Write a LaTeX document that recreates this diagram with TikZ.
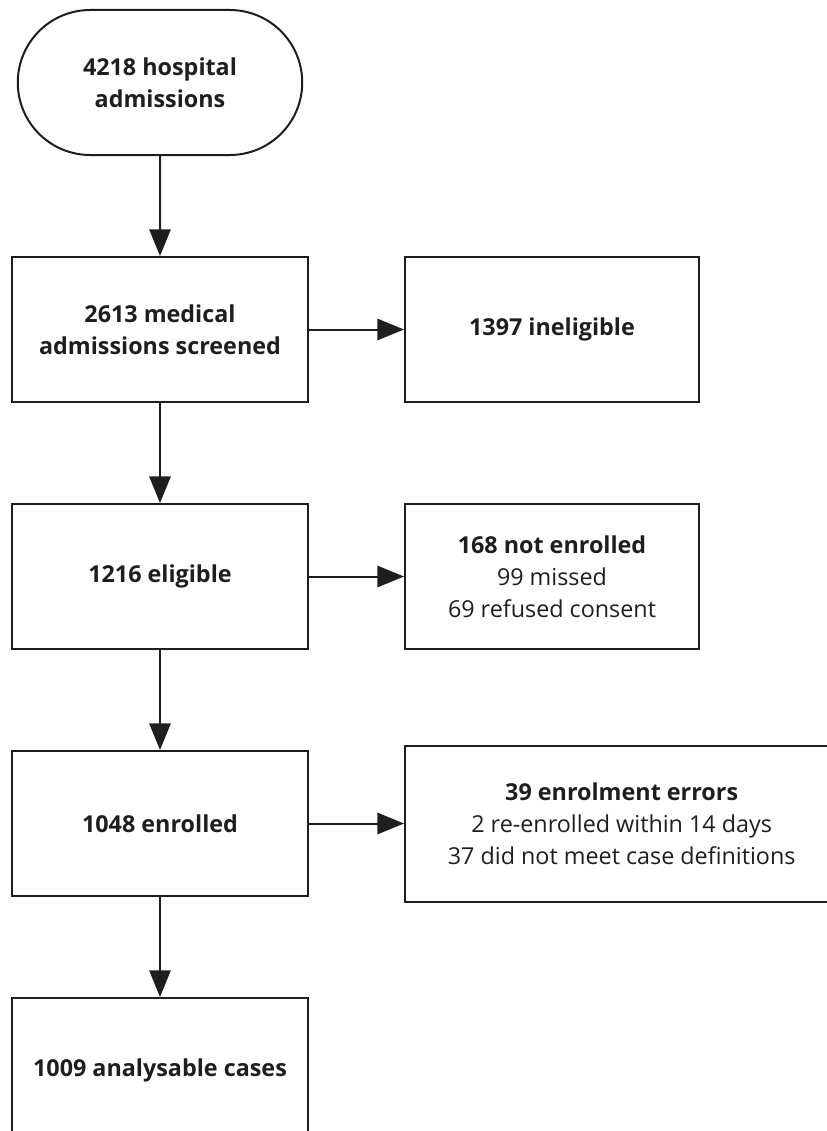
\documentclass[tikz,border=0pt]{standalone}
\usepackage{fontspec}
\setmainfont{Open Sans}
\usepackage{xcolor}
\usetikzlibrary{positioning, arrows.meta, shapes.misc}

\definecolor{ink}{HTML}{1E1E1E}

\begin{document}
\begin{tikzpicture}[
			node distance=75pt and 71.25pt,
			>={Triangle[length=20pt, width=16pt]},
			every node/.style={text=ink, font=\fontsize{17.5}{24}\selectfont},
			startbox/.style={draw=ink, line width=1.5pt, rounded rectangle, minimum width=220pt, minimum height=108.75pt, align=center},
			stepbox/.style={draw=ink, line width=1.5pt, rectangle, minimum width=222pt, minimum height=108.75pt, align=center},
			sidebox/.style={stepbox, minimum width=220.5pt}
		]
		\useasboundingbox (0,0) rectangle (620.25pt,-848.25pt);
		\clip (0,0) rectangle (620.25pt,-848.25pt);

		\node[startbox] (adm) at (120pt,-61.875pt) {\textbf{4218 hospital}\\\textbf{admissions}};
		\node[stepbox, below=of adm] (scr) {\textbf{2613 medical}\\\textbf{admissions screened}};
		\node[sidebox, right=of scr] (inel) {\textbf{1397 ineligible}};
		\node[stepbox, below=of scr] (elig) {\textbf{1216 eligible}};
		\node[sidebox, right=of elig] (notenr) {\textbf{168 not enrolled}\\99 missed\\69 refused consent};
		\node[stepbox, below=of elig] (enr) {\textbf{1048 enrolled}};
		\node[sidebox, minimum width=325pt, minimum height=117pt, right=of enr] (err) {\textbf{39 enrolment errors}\\2 re-enrolled within 14 days\\37 did not meet case definitions};
		\node[stepbox, below=of enr] (cases) {\textbf{1009 analysable cases}};

		\draw[->, draw=ink, line width=1.5pt] (adm) -- (scr);
		\draw[->, draw=ink, line width=1.5pt] (scr) -- (elig);
		\draw[->, draw=ink, line width=1.5pt] (elig) -- (enr);
		\draw[->, draw=ink, line width=1.5pt] (enr) -- (cases);
		\draw[->, draw=ink, line width=1.5pt] (scr) -- (inel);
		\draw[->, draw=ink, line width=1.5pt] (elig) -- (notenr);
		\draw[->, draw=ink, line width=1.5pt] (enr) -- (err);
	\end{tikzpicture}
\end{document}
